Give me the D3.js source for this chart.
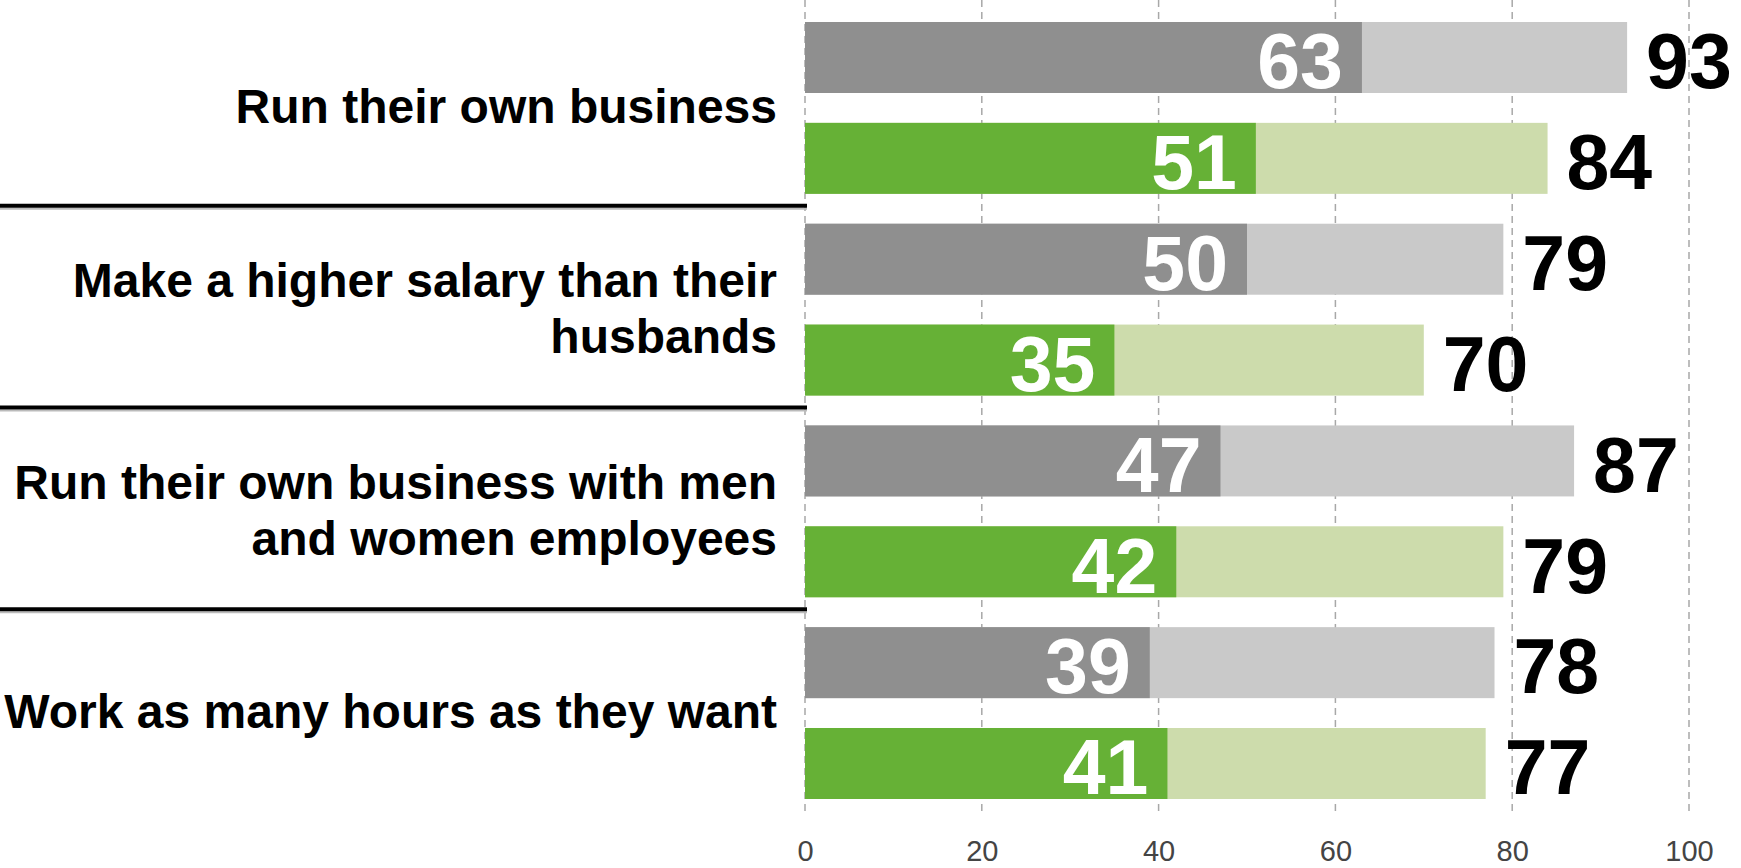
<!DOCTYPE html>
<html>
<head>
<meta charset="utf-8">
<script src="https://cdnjs.cloudflare.com/ajax/libs/d3/7.8.5/d3.min.js"></script>
<style>
  body { margin: 0; background: #fff; }
  svg { display: block; }
  text { font-family: "Liberation Sans", Arial, sans-serif; }
</style>
</head>
<body>
<div id="chart"></div>
<script>
var categories = [
    ['Run their own business'],
    ['Make a higher salary than their', 'husbands'],
    ['Run their own business with men', 'and women employees'],
    ['Work as many hours as they want']
];
var series = ['gray', 'green'];
var grayInner = [63, 50, 47, 39];
var grayTotal = [93, 79, 87, 78];
var greenInner = [51, 35, 42, 41];
var greenTotal = [84, 70, 79, 77];
var tickValues = [0, 20, 40, 60, 80, 100];

var colors = {
    gray: { dark: '#8f8f8f', light: '#c9c9c9' },
    green: { dark: '#66b136', light: '#cddcac' }
};

var rows = [];
categories.forEach(function(c, i){
    rows.push({ cat: i, s: 'gray', inner: grayInner[i], total: grayTotal[i] });
    rows.push({ cat: i, s: 'green', inner: greenInner[i], total: greenTotal[i] });
});

var width = 1741;
var height = 868;

var svg = d3.select('#chart')
    .append('svg')
    .attr('width', width)
    .attr('height', height);

var x = d3.scaleLinear().domain([0, 100]).range([805, 1689]);
var y = d3.scaleBand()
    .domain(rows.map(function(d){ return d.cat + '-' + d.s; }))
    .range([22, 799])
    .paddingInner(0.296)
    .paddingOuter(0);

// dashed grid
svg.append('g')
    .selectAll('line')
    .data(tickValues)
    .enter()
    .append('line')
    .attr('x1', function(d){ return x(d); })
    .attr('x2', function(d){ return x(d); })
    .attr('y1', 0)
    .attr('y2', 814)
    .attr('stroke', '#a8a8a8')
    .attr('stroke-width', 1.5)
    .attr('stroke-dasharray', '7,5');

var axis = d3.axisBottom(x).tickValues(tickValues).tickSize(0).tickPadding(0);
var ax = svg.append('g')
    .attr('transform', 'translate(0,840)')
    .call(axis);
ax.select('.domain').remove();
ax.selectAll('text')
    .attr('font-size', 29)
    .attr('fill', '#444')
    .attr('font-family', '"Liberation Sans", Arial, sans-serif');

var bars = svg.append('g')
    .selectAll('g')
    .data(rows)
    .enter()
    .append('g')
    .attr('transform', function(d){ return 'translate(0,' + y(d.cat + '-' + d.s) + ')'; });

bars.append('rect')
    .attr('x', x(0))
    .attr('width', function(d){ return x(d.total) - x(0); })
    .attr('height', y.bandwidth())
    .attr('fill', function(d){ return colors[d.s].light; });

bars.append('rect')
    .attr('x', x(0))
    .attr('width', function(d){ return x(d.inner) - x(0); })
    .attr('height', y.bandwidth())
    .attr('fill', function(d){ return colors[d.s].dark; });

bars.append('text')
    .attr('x', function(d){ return x(d.inner) - 19; })
    .attr('y', y.bandwidth() / 2)
    .attr('dy', '0.4em')
    .attr('text-anchor', 'end')
    .attr('font-size', 77)
    .attr('font-weight', 'bold')
    .attr('fill', '#fff')
    .text(function(d){ return d.inner; });

bars.append('text')
    .attr('x', function(d){ return x(d.total) + 19; })
    .attr('y', y.bandwidth() / 2)
    .attr('dy', '0.4em')
    .attr('font-size', 77)
    .attr('font-weight', 'bold')
    .attr('fill', '#000')
    .text(function(d){ return d.total; });

// category labels
var step = y.step();
var labels = svg.append('g')
    .selectAll('text')
    .data(categories)
    .enter()
    .append('text')
    .attr('text-anchor', 'end')
    .attr('font-size', 48)
    .attr('font-weight', 'bold')
    .attr('fill', '#000')
    .attr('transform', function(d, i){
        var mid = (y(i + '-gray') + y(i + '-green') + y.bandwidth()) / 2;
        return 'translate(777,' + (mid - 2) + ')';
    });

labels.selectAll('tspan')
    .data(function(d){ return d.map(function(t, k){ return { t: t, k: k, n: d.length }; }); })
    .enter()
    .append('tspan')
    .attr('x', 0)
    .attr('y', function(d){ return (d.k - (d.n - 1) / 2) * 56; })
    .attr('dy', '0.36em')
    .text(function(d){ return d.t; });

// separators between groups (with a faint shadow)
var sepY = function(d, i){ return y((i + 1) + '-gray') - step * y.paddingInner() / 2 - 3; };
var seps = svg.append('g')
    .selectAll('g')
    .data(categories.slice(1))
    .enter()
    .append('g');

seps.append('line')
    .attr('x1', 0)
    .attr('x2', x(0) + 2)
    .attr('y1', function(d, i){ return sepY(d, i) + 3; })
    .attr('y2', function(d, i){ return sepY(d, i) + 3; })
    .attr('stroke', '#bbb')
    .attr('stroke-width', 2);

seps.append('line')
    .attr('x1', 0)
    .attr('x2', x(0) + 2)
    .attr('y1', sepY)
    .attr('y2', sepY)
    .attr('stroke', '#000')
    .attr('stroke-width', 4);
</script>
</body>
</html>
